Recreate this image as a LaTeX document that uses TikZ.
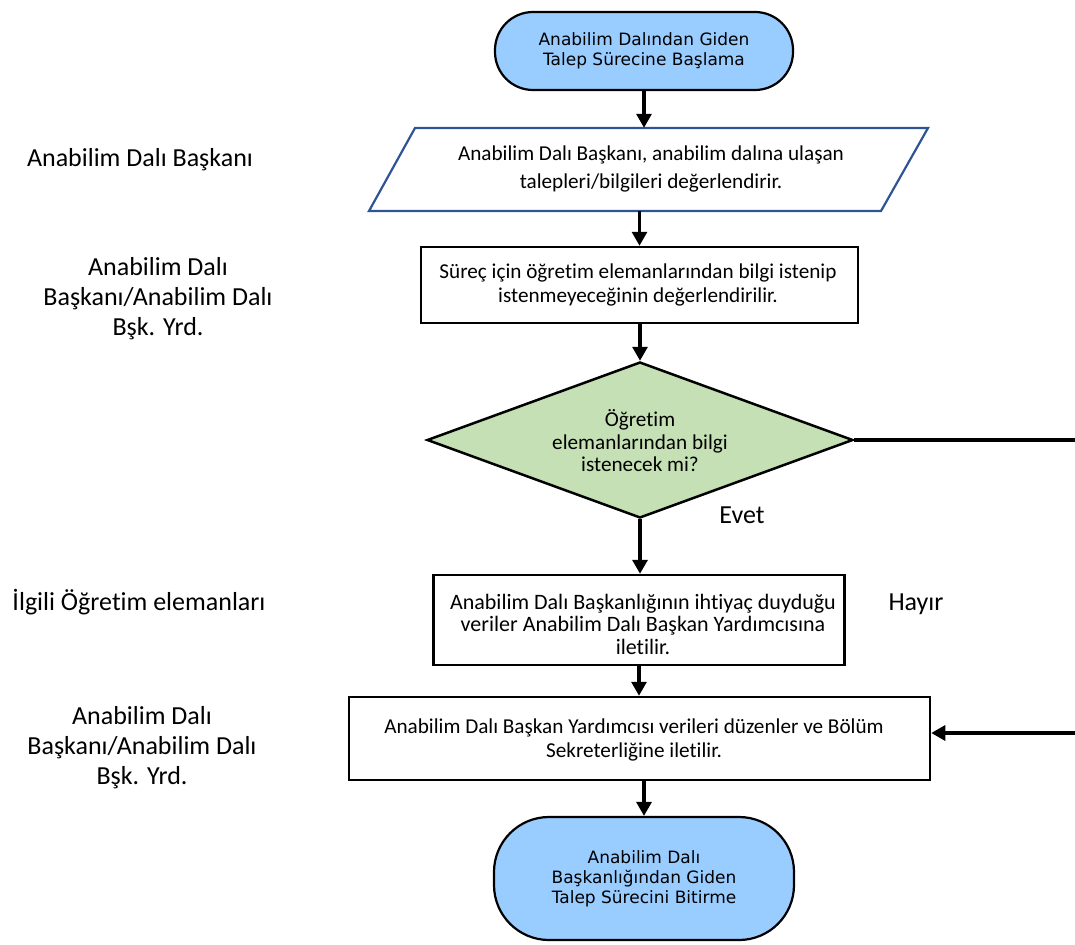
\documentclass[tikz,border=0pt]{standalone}
\usepackage{fontspec}
\setmainfont{Carlito}[RawFeature=-liga]
\newfontfamily\termfont{DejaVu Sans}
\usetikzlibrary{shapes.geometric,arrows.meta,calc}
\definecolor{termblue}{RGB}{153,204,255}
\definecolor{diagreen}{RGB}{197,224,180}
\definecolor{parblue}{RGB}{47,84,150}
\tikzset{
  x=1pt,y=-1pt,
  term/.style={draw=black,line width=2.2pt,fill=termblue,rounded corners=#1,align=center,font=\termfont\fontsize{17}{20}\selectfont,inner sep=0pt},
  procbox/.style={draw=black,line width=2.5pt,inner sep=0pt},
  boxtext/.style={align=center,inner sep=0pt,font=\fontsize{21.2}{#1}\selectfont},
  lbl/.style={align=center,font=\fontsize{26}{30}\selectfont},
  arr/.style={line width=3.1pt,-{Triangle[width=15pt,length=14pt]}},
  plain/.style={line width=3.1pt}
}
\begin{document}
\begin{tikzpicture}
\useasboundingbox (0,0) rectangle (1075,944);
\clip (0,0) rectangle (1075,944);
% start
\node[term=38pt,minimum width=298pt,minimum height=78pt] (s) at (644,51) {Anabilim Dalından Giden\\Talep Sürecine Başlama};
% parallelogram
\node[minimum width=470pt,minimum height=83pt,inner sep=0pt] (p) at (648.5,169.5) {};
\draw[parblue,line width=2.2pt] (415,128) -- (928,128) -- (881,211) -- (369,211) -- cycle;
\node[boxtext=28] (pt) at (651,169) {Anabilim Dalı Başkanı, anabilim dalına ulaşan\\talepleri/bilgileri değerlendirir.};
% rect 1
\node[procbox,minimum width=437pt,minimum height=76pt] (r1) at (639.5,285) {};
\node[boxtext=24] (r1t) at (638,285) {Süreç için öğretim elemanlarından bilgi istenip\\istenmeyeceğinin değerlendirilir.};
% diamond
\node[diamond,draw=black,line width=2.5pt,fill=diagreen,minimum width=426pt,minimum height=156pt,inner sep=0pt,aspect=2.73] (d) at (640,440) {};
\node[boxtext=22.5] (dt) at (640,441) {Öğretim\\elemanlarından bilgi\\istenecek mi?};
% rect 2
\node[procbox,minimum width=411pt,minimum height=90pt] (r2) at (639,620) {};
\node[align=center,inner sep=0pt,font=\fontsize{22}{22.5}\selectfont] (r2t) at (643,624) {Anabilim Dalı Başkanlığının ihtiyaç duyduğu\\veriler Anabilim Dalı Başkan Yardımcısına\\iletilir.};
% rect 3
\node[procbox,minimum width=581pt,minimum height=83pt] (r3) at (639.5,738.5) {};
\node[boxtext=24] (r3t) at (634,740) {Anabilim Dalı Başkan Yardımcısı verileri düzenler ve Bölüm\\Sekreterliğine iletilir.};
% end
\node[term=55pt,minimum width=300pt,minimum height=123pt] (e) at (644,878.5) {Anabilim Dalı\\Başkanlığından Giden\\Talep Sürecini Bitirme};
% labels
\node[lbl] (l1) at (140,160) {Anabilim Dalı Başkanı};
\node[lbl] (l2) at (158,299) {Anabilim Dalı\\Başkanı/Anabilim Dalı\\Bşk. Yrd.};
\node[lbl] (l3) at (139,602) {İlgili Öğretim elemanları};
\node[lbl] (l4) at (142,748) {Anabilim Dalı\\Başkanı/Anabilim Dalı\\Bşk. Yrd.};
\node[font=\fontsize{26}{30}\selectfont] (ev) at (742,515) {Evet};
\node[font=\fontsize{26}{30}\selectfont] (hy) at (916,604) {Hayır};
% connectors
\coordinate (c1) at (1078,438);
\coordinate (c2) at (1078,733);
\draw[arr] (s.south) -- (s.south |- p.north);
\draw[arr] (r1.north |- p.south) -- (r1.north);
\draw[arr] (r1.south -| d.north) -- (d.north);
\draw[arr,line width=4.2pt] (d.south) -- (d.south |- r2.north);
\draw[arr] (r2.south) -- (r2.south |- r3.north);
\draw[arr] (r3.south -| e.north) -- (e.north);
\draw[plain] (d.east) -- (d.east -| c1) -- (c2);
\draw[arr] (c2) -- (c2 -| r3.east);
\end{tikzpicture}
\end{document}
